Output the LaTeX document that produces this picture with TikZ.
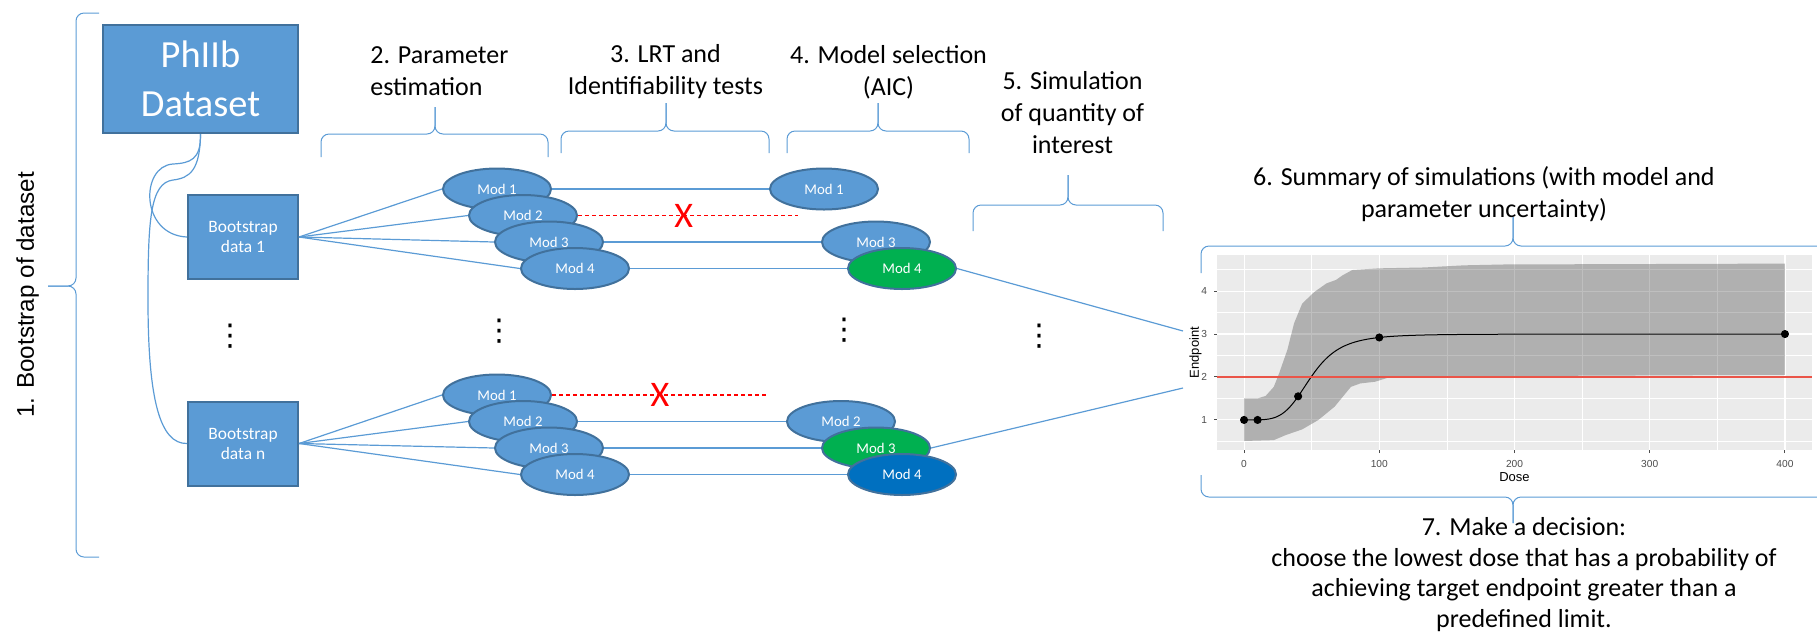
\documentclass[tikz,border=0pt]{standalone}
\usepackage{fontspec}
\setmainfont{Carlito}
\newfontfamily\plotfont{Liberation Sans}
\newfontfamily\symfont{DejaVu Sans}
\usepackage{tikz}
\usetikzlibrary{shapes.geometric, positioning}
\usepackage{pgfplots}
\pgfplotsset{compat=1.18}
\definecolor{officeblue}{RGB}{91,155,213}
\definecolor{officeedge}{RGB}{65,113,156}
\definecolor{pickgreen}{RGB}{0,176,80}
\definecolor{pickblue}{RGB}{0,112,192}
\definecolor{ggpanel}{RGB}{235,235,235}
\definecolor{ggred}{RGB}{234,84,72}
\definecolor{ggtick}{RGB}{77,77,77}

% x1, xmid, x2, y of tails, y of bar, y of tip
\newcommand{\horibrace}[6]{%
  \draw[brace] (#1,#4) -- (#1,#5) -- (#2,#5) -- (#2,#6);
  \draw[brace] (#3,#4) -- (#3,#5) -- (#2,#5) -- (#2,#6);}

\begin{document}
\begin{tikzpicture}[
    x=0.5pt, y=-0.5pt,
    databox/.style={draw=officeedge, line width=1pt, fill=officeblue, text=white,
                align=center, inner sep=0pt},
    model/.style={ellipse, draw=officeedge, line width=1pt, fill=officeblue, text=white,
                minimum width=54pt, minimum height=20.5pt, inner sep=0pt,
                font=\fontsize{7.4}{9}\selectfont},
    link/.style={draw=officeblue, line width=0.6pt},
    dropped/.style={draw=red, dash pattern=on 2pt off 1.5pt, line width=0.6pt},
    brace/.style={draw=officeblue, line width=0.5pt, rounded corners=4pt},
    steplabel/.style={font=\fontsize{13}{16}\selectfont, align=center, inner sep=0pt},
    gapdots/.style={font=\symfont\fontsize{15}{18}\selectfont, inner sep=0pt},
    veto/.style={text=red, font=\fontsize{18}{20}\selectfont, inner sep=0pt}
]
\useasboundingbox (0,0) rectangle (1817,634);
\clip (0,0) rectangle (1817,634);

% step 1: bootstrap
\node[rotate=90, inner sep=0pt, font=\plotfont\fontsize{12.1}{14}\selectfont] (lab1) at (27.5,295) {1. Bootstrap of dataset};
\draw[brace] (99,13) -- (76,13) -- (76,286) -- (48,286);
\draw[brace] (99,557) -- (76,557) -- (76,286) -- (48,286);

\node[databox, minimum width=97.5pt, minimum height=54pt, font=\fontsize{19.2}{24.5}\selectfont] (pb) at (200.5,79) {PhIIb\\Dataset};
\node[databox, minimum width=55pt, minimum height=42pt, font=\fontsize{8.7}{10}\selectfont] (boot1) at (243,237) {Bootstrap\\data 1};
\node[databox, minimum width=55pt, minimum height=42pt, font=\fontsize{8.7}{10}\selectfont, on grid, below=103.25pt of boot1] (bootn) {Bootstrap\\data n};
\draw[link] (pb.south) .. controls (201,160) and (190,163) .. (173,164) .. controls (140,166) and (140,235) .. (boot1.west);
\draw[link] (pb.south) .. controls (200,170) and (190,178) .. (173,180) .. controls (150,183) and (148,220) .. (148,300) .. controls (148,400) and (160,444) .. (bootn.west);

% step 2: parameter estimation
\node[steplabel, align=left, anchor=west] (lab2) at (370,71.5) {2. Parameter\\estimation};
\horibrace{321}{435}{548}{157}{134}{107}
\node[model] (fit1m1) at (497,189) {Mod 1};
\node[model, on grid, below right=13.25pt and 13pt of fit1m1] (fit1m2) {Mod 2};
\node[model, on grid, below right=13.25pt and 13pt of fit1m2] (fit1m3) {Mod 3};
\node[model, on grid, below right=13.25pt and 13pt of fit1m3] (fit1m4) {Mod 4};
\node[model, on grid, below=103pt of fit1m1] (fitnm1) {Mod 1};
\node[model, on grid, below right=13.25pt and 13pt of fitnm1] (fitnm2) {Mod 2};
\node[model, on grid, below right=13.25pt and 13pt of fitnm2] (fitnm3) {Mod 3};
\node[model, on grid, below right=13.25pt and 13pt of fitnm3] (fitnm4) {Mod 4};
\draw[link] (boot1.east) -- (fit1m1.west);
\draw[link] (boot1.east) -- (fit1m2.west);
\draw[link] (boot1.east) -- (fit1m3.west);
\draw[link] (boot1.east) -- (fit1m4.west);
\draw[link] (bootn.east) -- (fitnm1.west);
\draw[link] (bootn.east) -- (fitnm2.west);
\draw[link] (bootn.east) -- (fitnm3.west);
\draw[link] (bootn.east) -- (fitnm4.west);

% step 3 and 4: tests and model selection
\node[steplabel] (lab3) at (665.5,71.5) {3. LRT and\\Identifiability tests};
\horibrace{561}{666}{769}{153}{131}{103}
\node[steplabel] (lab4) at (888.5,72.5) {4. Model selection\\(AIC)};
\horibrace{787}{878}{969}{153}{131}{103}
\node[model, on grid, right=163.5pt of fit1m1] (sel1m1) {Mod 1};
\node[model, on grid, right=163.5pt of fit1m3] (sel1m3) {Mod 3};
\node[model, on grid, right=163.5pt of fit1m4, fill=pickgreen] (sel1m4) {Mod 4};
\node[model, on grid, right=159pt of fitnm2] (selnm2) {Mod 2};
\node[model, on grid, right=163.5pt of fitnm3, fill=pickgreen] (selnm3) {Mod 3};
\node[model, on grid, right=163.5pt of fitnm4, fill=pickblue] (selnm4) {Mod 4};
\coordinate[on grid, right=110pt of fit1m2.east] (gone1);
\coordinate[on grid, right=108pt of fitnm1.east] (gonen);
\draw[link] (fit1m1.east) -- (sel1m1.west);
\draw[link] (fit1m3.east) -- (sel1m3.west);
\draw[link] (fit1m4.east) -- (sel1m4.west);
\draw[dropped] (fit1m2.east) -- node[veto, pos=0.48] (veto1) {X} (gone1);
\draw[link] (fitnm2.east) -- (selnm2.west);
\draw[link] (fitnm3.east) -- (selnm3.west);
\draw[link] (fitnm4.east) -- (selnm4.west);
\draw[dropped] (fitnm1.east) -- node[veto, pos=0.5] (veton) {X} (gonen);

\node[gapdots] (gap1) at (230,336) {⋮};
\node[gapdots] (gap2) at (499,331) {⋮};
\node[gapdots] (gap3) at (844,330) {⋮};
\node[gapdots] (gap4) at (1039,336) {⋮};

% step 5: simulation
\node[steplabel] (lab5) at (1072.5,112.5) {5. Simulation\\of quantity of\\interest};
\horibrace{973}{1068}{1163}{231}{205}{175}
\coordinate (plotin1) at (1183,331);
\coordinate (plotinn) at (1183,388);
\draw[link] (sel1m4.east) -- (plotin1);
\draw[link] (selnm3.east) -- (plotinn);

% step 6: summary plot
\node[steplabel] (lab6) at (1484,194) {6. Summary of simulations (with model and\\parameter uncertainty)};
\horibrace{1201}{1513}{1825}{273}{246}{217}
\coordinate (panelsw) at (1217,450);
\begin{axis}[
    at={(panelsw)}, anchor=south west,
    scale only axis, width=297.5pt, height=97.5pt,
    xmin=-20, xmax=420, ymin=0.3, ymax=4.84,
    axis background/.style={fill=ggpanel},
    axis line style={draw=none},
    xtick={0,100,200,300,400}, ytick={1,2,3,4},
    xticklabels={0,100,200,300,400}, yticklabels={1,2,3,4},
    minor xtick={50,150,250,350}, minor ytick={0.5,1.5,2.5,3.5,4.5},
    grid=both,
    major grid style={draw=white, line width=0.55pt},
    minor grid style={draw=white, line width=0.28pt},
    tick pos=left, tick align=outside,
    major tick length=1.5pt, minor tick length=0pt,
    tick style={draw=ggtick, line width=0.5pt},
    tick label style={font=\plotfont\fontsize{5.1}{6}\selectfont, text=ggtick},
    label style={font=\plotfont\fontsize{6.5}{8}\selectfont},
    xlabel={Dose}, ylabel={Endpoint},
    xlabel shift=-4pt, ylabel shift=-7pt
]
\fill[black, fill opacity=0.25] (0,1.5) -- (10,1.5) -- (16,1.56) -- (22,1.77) -- (26,2.09)
    -- (32,2.63) -- (37,3.25) -- (43,3.71) -- (52,3.98) -- (61,4.18) -- (68,4.26) -- (73,4.37)
    -- (80,4.49) -- (100,4.53) -- (133,4.55) -- (163,4.6) -- (193,4.62) -- (400,4.64)
    -- (400,2.05) -- (109,2.01) -- (97,1.89) -- (86,1.85) -- (79,1.77) -- (67,1.31)
    -- (55,1.0) -- (43,0.78) -- (31,0.65) -- (22,0.53) -- (0,0.51) -- cycle;
\addplot[black, line width=0.5pt, domain=0.1:400, samples=201] {1+2*(x/49.6)^4.53/(1+(x/49.6)^4.53)};
\addplot[ggred, line width=1.1pt] coordinates {(-20,2) (420,2)};
\addplot[only marks, mark=*, mark size=1.8pt, black] coordinates {(0,1) (10,1) (40,1.55) (100,2.92) (400,3)};
\end{axis}

% step 7: decision
\horibrace{1201}{1513}{1825}{475}{497}{523}
\node[steplabel, font=\fontsize{13}{15.3}\selectfont] (lab7) at (1524,574.5) {7. Make a decision:\\choose the lowest dose that has a probability of\\achieving target endpoint greater than a\\predefined limit.};
\end{tikzpicture}
\end{document}
